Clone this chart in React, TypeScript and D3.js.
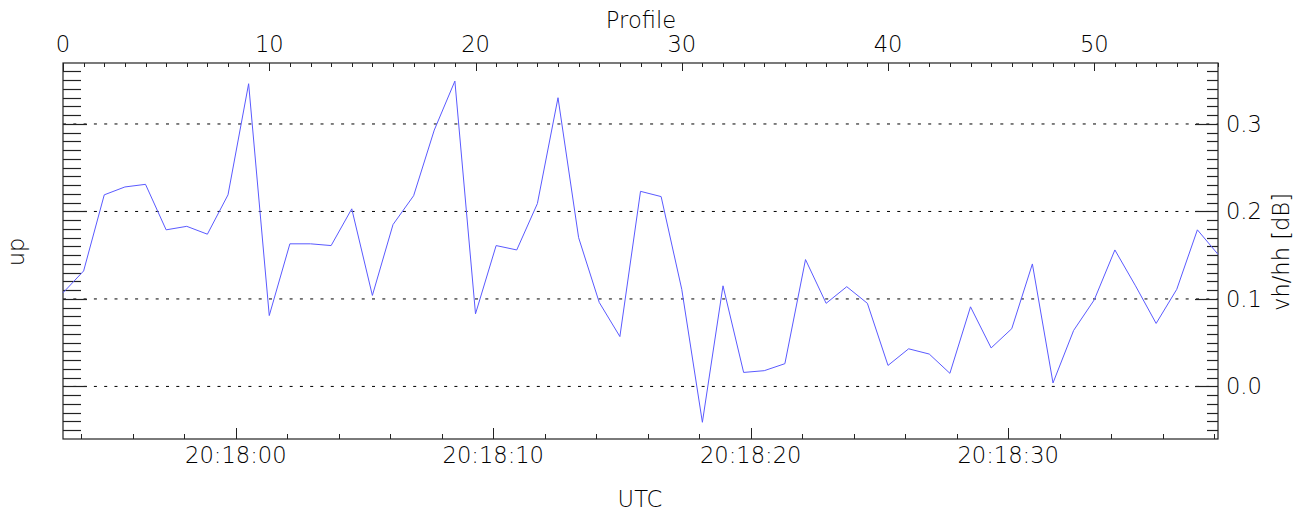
import { useRef, useEffect } from 'react';
import * as d3 from 'd3';

// vh/hh ratio per profile
const profiles = d3.range(0, 57);
const vhhh = [
  0.107, 0.132, 0.219, 0.228, 0.231, 0.179, 0.183, 0.174, 0.219, 0.346,
  0.081, 0.163, 0.163, 0.161, 0.203, 0.104, 0.185, 0.218, 0.293, 0.349,
  0.083, 0.161, 0.156, 0.209, 0.330, 0.170, 0.096, 0.057, 0.223, 0.217,
  0.111, -0.041, 0.115, 0.016, 0.018, 0.026, 0.145, 0.095, 0.114, 0.095,
  0.024, 0.043, 0.037, 0.015, 0.091, 0.044, 0.066, 0.140, 0.004, 0.064,
  0.099, 0.156, 0.115, 0.072, 0.111, 0.179, 0.151,
];
const yTickLabels = ['0.0', '0.1', '0.2', '0.3'];
const yTicks = [0, 0.1, 0.2, 0.3];
const profileTicks = [0, 10, 20, 30, 40, 50];
const timeStart = Date.UTC(2000, 0, 1, 20, 17, 53, 290);
const secPerProfile = 0.801;

export default function App() {
  const svgRef = useRef(null);

  const width = 1310;
  const height = 514;
  const margin = { top: 63, right: 92, bottom: 75, left: 63 };
  const font = '"DejaVu Sans", sans-serif';
  const fs = 22.6;

  useEffect(() => {
    const svg = d3.select(svgRef.current);
    svg.selectAll('*').remove();

    const x0 = margin.left, x1 = width - margin.right;
    const y0 = margin.top, y1 = height - margin.bottom;

    const xScale = d3.scaleLinear().domain([0, 56]).range([x0, x1]);
    const tScale = d3.scaleUtc()
      .domain([new Date(timeStart), new Date(timeStart + 56 * secPerProfile * 1000)])
      .range([x0, x1]);
    const yScale = d3.scaleLinear().domain([-0.0601, 0.3697]).range([y1, y0]);

    const ink = '#222';
    const txt = '#000';

    const label = (sel) => sel
      .attr('font-family', font).attr('font-weight', 200).attr('font-size', fs)
      .attr('fill', txt);

    // dotted grid lines
    yTicks.forEach(v => {
      svg.append('line')
        .attr('x1', x0).attr('x2', x1)
        .attr('y1', yScale(v)).attr('y2', yScale(v))
        .attr('stroke', '#000').attr('stroke-width', 1)
        .attr('stroke-dasharray', '3 7.3');
    });

    // frame
    svg.append('rect')
      .attr('x', x0).attr('y', y0)
      .attr('width', x1 - x0).attr('height', y1 - y0)
      .attr('fill', 'none').attr('stroke', ink).attr('stroke-width', 1.2);

    // left / right ticks every 0.01
    const fine = d3.range(-5, 37).map(d => d / 100);
    fine.forEach(v => {
      const major = Math.abs(Math.round(v * 10) - v * 10) < 1e-6;
      const y = Math.round(yScale(v)) + 0.5;
      svg.append('line')
        .attr('x1', x0).attr('x2', x0 + (major ? 24 : 18))
        .attr('y1', y).attr('y2', y)
        .attr('stroke', ink).attr('stroke-width', 1.2);
      svg.append('line')
        .attr('x1', x1).attr('x2', x1 - (major ? 23 : 11))
        .attr('y1', y).attr('y2', y)
        .attr('stroke', ink).attr('stroke-width', 1.2);
    });

    // top profile ticks
    profiles.forEach(p => {
      const x = Math.round(xScale(p)) + 0.5;
      svg.append('line')
        .attr('x1', x).attr('x2', x)
        .attr('y1', y0).attr('y2', y0 + (p % 10 === 0 ? 8 : 4))
        .attr('stroke', ink).attr('stroke-width', 1);
    });
    profileTicks.forEach(p => {
      svg.append('text')
        .attr('x', xScale(p)).attr('y', 52)
        .attr('text-anchor', 'middle')
        .call(label)
        .text(p);
    });

    // bottom time ticks
    tScale.ticks(d3.utcSecond.every(2)).forEach(t => {
      const x = Math.round(tScale(t)) + 0.5;
      const major = t.getUTCSeconds() % 10 === 0;
      svg.append('line')
        .attr('x1', x).attr('x2', x)
        .attr('y1', y1).attr('y2', y1 - (major ? 11 : 5))
        .attr('stroke', ink).attr('stroke-width', 1);
      if (major) {
        svg.append('text')
          .attr('x', tScale(t)).attr('y', 463)
          .attr('text-anchor', 'middle')
          .call(label)
          .text(d3.utcFormat('%H:%M:%S')(t));
      }
    });

    // right labels
    yTicks.forEach((v, i) => {
      svg.append('text')
        .attr('x', 1226).attr('y', yScale(v) + 8)
        .call(label)
        .text(yTickLabels[i]);
    });

    // titles
    svg.append('text')
      .attr('x', 641).attr('y', 28).attr('text-anchor', 'middle')
      .call(label).text('Profile');
    svg.append('text')
      .attr('x', 640).attr('y', 507).attr('text-anchor', 'middle')
      .call(label).text('UTC');
    svg.append('text')
      .attr('transform', 'translate(24,252) rotate(-90)')
      .attr('text-anchor', 'middle')
      .call(label).text('up');
    svg.append('text')
      .attr('transform', 'translate(1289,252) rotate(-90)')
      .attr('text-anchor', 'middle')
      .call(label).text('vh/hh [dB]');

    // data line
    const line = d3.line<number>()
      .x((d, i) => xScale(profiles[i]))
      .y(d => yScale(d));
    svg.append('path')
      .datum(vhhh)
      .attr('d', line)
      .attr('fill', 'none')
      .attr('stroke', '#5a5aff')
      .attr('stroke-width', 1);
  }, []);

  return (
    <svg ref={svgRef} width={width} height={height}
      style={{ position: 'absolute', left: 0, top: 0, background: '#fff' }} />
  );
}
